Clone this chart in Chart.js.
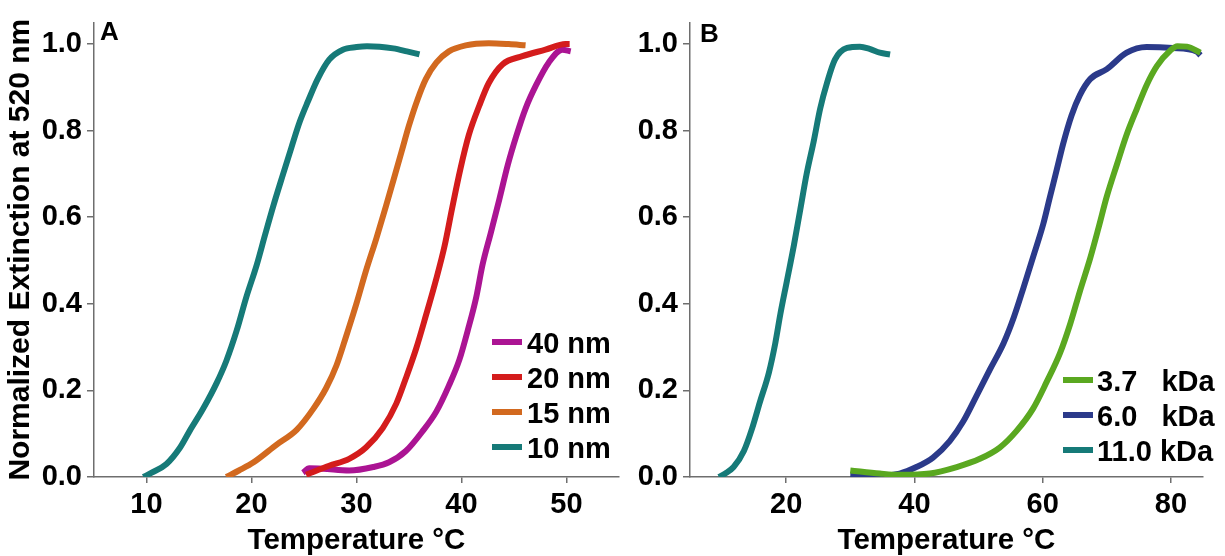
<!DOCTYPE html>
<html>
<head>
<meta charset="utf-8">
<script src="https://cdn.jsdelivr.net/npm/chart.js@4.4.1/dist/chart.umd.min.js"></script>
<style>
  html, body { margin: 0; padding: 0; background: #ffffff; }
  #wrap { position: relative; width: 1225px; height: 556px; overflow: hidden; }
  .panel { position: absolute; top: 0; height: 556px; }
</style>
</head>
<body>
<div id="wrap">
  <div class="panel" style="left:0;width:620px;"><canvas id="chartA"></canvas></div>
  <div class="panel" style="left:620px;width:605px;"><canvas id="chartB"></canvas></div>
</div>
<script>
// ---------- Panel A data (temperature °C, normalized extinction) ----------
const LABELS_A = ['40 nm', '20 nm', '15 nm', '10 nm'];
const COLORS_A = ['#ab1493', '#d41c1c', '#d2691f', '#167a78'];

const temp40 = [24.9, 25.5, 26.8, 29.3, 31.6, 33.1, 34.7, 36.3, 37.6, 38.8, 39.8, 40.6, 41.4, 42.0, 42.8, 43.6, 44.4, 45.2, 46.1, 47.1, 48.3, 49.6, 50.4];
const ext40  = [0.010, 0.020, 0.019, 0.015, 0.023, 0.034, 0.060, 0.106, 0.151, 0.211, 0.271, 0.339, 0.415, 0.490, 0.565, 0.641, 0.720, 0.786, 0.851, 0.905, 0.957, 0.987, 0.983];

const temp20 = [25.2, 27.4, 29.3, 30.9, 32.5, 33.8, 34.7, 35.7, 36.6, 37.6, 38.4, 39.1, 39.9, 40.7, 41.7, 42.6, 43.9, 45.8, 48.0, 49.9, 50.3];
const ext20  = [0.005, 0.026, 0.042, 0.068, 0.113, 0.170, 0.228, 0.298, 0.372, 0.458, 0.535, 0.620, 0.712, 0.790, 0.858, 0.910, 0.953, 0.972, 0.987, 1.000, 1.000];

const temp15 = [17.6, 18.8, 20.2, 22.4, 24.3, 25.9, 27.1, 28.1, 29.0, 30.0, 30.9, 31.9, 32.8, 33.5, 34.3, 35.0, 35.8, 36.6, 37.6, 38.8, 40.4, 42.6, 44.5, 46.1];
const ext15  = [0.000, 0.015, 0.034, 0.075, 0.109, 0.158, 0.205, 0.258, 0.324, 0.401, 0.476, 0.552, 0.625, 0.684, 0.752, 0.812, 0.871, 0.919, 0.957, 0.983, 0.997, 1.002, 1.000, 0.997];

const temp10 = [9.7, 10.5, 11.9, 13.2, 14.1, 15.4, 16.7, 17.6, 18.6, 19.5, 20.5, 21.3, 22.1, 23.0, 23.8, 24.6, 25.4, 26.3, 27.4, 28.7, 30.0, 31.0, 32.2, 33.5, 34.8, 36.0];
const ext10  = [0.000, 0.010, 0.030, 0.068, 0.106, 0.158, 0.218, 0.268, 0.339, 0.415, 0.490, 0.560, 0.628, 0.699, 0.761, 0.821, 0.869, 0.919, 0.964, 0.987, 0.993, 0.995, 0.994, 0.990, 0.983, 0.976];

const X_TICKS_A = [10, 20, 30, 40, 50];

// ---------- Panel B data ----------
const LABELS_B = ['3.7   kDa', '6.0   kDa', '11.0 kDa'];
const COLORS_B = ['#5aa820', '#2b3a8a', '#167a78'];

const temp37 = [30.0, 34.6, 37.7, 42.4, 46.6, 50.2, 53.3, 55.9, 58.5, 60.6, 62.7, 64.3, 65.8, 67.4, 68.7, 70.0, 71.6, 73.1, 74.7, 76.2, 77.8, 79.9, 81.0, 82.5, 84.6];
const ext37  = [0.015, 0.008, 0.005, 0.008, 0.023, 0.042, 0.068, 0.106, 0.158, 0.219, 0.286, 0.354, 0.429, 0.505, 0.575, 0.648, 0.723, 0.791, 0.851, 0.905, 0.949, 0.985, 0.995, 0.994, 0.980];

const temp60 = [30.0, 34.6, 37.7, 40.3, 42.9, 45.5, 47.6, 49.7, 51.8, 53.9, 55.5, 57.0, 58.5, 60.1, 61.1, 62.2, 63.2, 64.5, 65.8, 67.4, 70.0, 73.1, 76.2, 80.3, 84.0, 84.6];
const ext60  = [0.005, 0.003, 0.008, 0.023, 0.045, 0.083, 0.128, 0.188, 0.249, 0.309, 0.369, 0.437, 0.508, 0.585, 0.645, 0.710, 0.770, 0.835, 0.882, 0.919, 0.942, 0.980, 0.993, 0.991, 0.983, 0.974];

const temp110 = [9.5, 10.5, 11.8, 13.4, 14.7, 15.9, 17.3, 18.3, 19.1, 20.1, 21.2, 22.2, 23.2, 24.3, 25.3, 26.4, 27.6, 29.5, 31.5, 33.0, 34.6, 36.2];
const ext110  = [0.000, 0.008, 0.023, 0.060, 0.113, 0.173, 0.241, 0.309, 0.377, 0.452, 0.535, 0.618, 0.701, 0.776, 0.851, 0.912, 0.964, 0.991, 0.994, 0.989, 0.980, 0.976];

const X_TICKS_B = [20, 40, 60, 80];
const Y_TICKS = [0, 0.2, 0.4, 0.6, 0.8, 1.0];

// ---------- helpers ----------
const FONT = '"Liberation Sans", Arial, Helvetica, sans-serif';
const AXIS_GRAY = '#6e6e6e';
const pts = (xs, ys) => xs.map((x, i) => ({ x: x, y: ys[i] }));

function series(label, color, xs, ys, order) {
  return {
    label: label, data: pts(xs, ys), borderColor: color, backgroundColor: color,
    borderWidth: 6, pointRadius: 0, cubicInterpolationMode: 'monotone', fill: false,
    borderJoinStyle: 'round', borderCapStyle: 'butt', order: order
  };
}

function makeDecor(cfg) {
  return {
    id: 'decor_' + cfg.letter,
    afterDraw(chart) {
      const ctx = chart.ctx;
      ctx.save();
      ctx.fillStyle = '#000';
      ctx.textBaseline = 'alphabetic';
      ctx.textAlign = 'left';
      ctx.font = 'bold 26px ' + FONT;
      ctx.fillText(cfg.letter, cfg.letterX, cfg.letterY);
      ctx.font = 'bold 29px ' + FONT;
      cfg.labels.forEach((lab, i) => {
        const y = cfg.legendY + i * cfg.legendGap;
        ctx.strokeStyle = cfg.colors[i];
        ctx.lineWidth = 6;
        ctx.lineCap = 'butt';
        ctx.beginPath();
        ctx.moveTo(cfg.swX, y);
        ctx.lineTo(cfg.swX + cfg.swW, y);
        ctx.stroke();
        ctx.fillText(lab, cfg.textX, y + 10.5);
      });
      ctx.restore();
    }
  };
}

function axisX(min, max, tickVals) {
  return {
    type: 'linear', min: min, max: max,
    afterBuildTicks: s => { s.ticks = tickVals.map(v => ({ value: v })); },
    afterFit: s => { s.height = 79; },
    ticks: { color: '#000', font: { family: FONT, size: 29, weight: 'bold' }, padding: 5, maxRotation: 0,
             callback: v => String(v) },
    grid: { drawOnChartArea: false, drawTicks: true, tickLength: 6, color: AXIS_GRAY, lineWidth: 1.5 },
    border: { display: true, color: AXIS_GRAY, width: 1.5 },
    title: { display: true, text: 'Temperature °C', color: '#000',
             font: { family: FONT, size: 29.5, weight: 'bold', lineHeight: 1 }, padding: { top: 0, bottom: 0 } }
  };
}

function axisY(width, withTitle) {
  return {
    type: 'linear', min: 0, max: 1.05,
    afterBuildTicks: s => { s.ticks = Y_TICKS.map(v => ({ value: v })); },
    afterFit: s => { s.width = width; },
    ticks: { color: '#000', font: { family: FONT, size: 29, weight: 'bold' }, padding: 5,
             callback: v => Number(v).toFixed(1) },
    grid: { drawOnChartArea: false, drawTicks: true, tickLength: 7, color: AXIS_GRAY, lineWidth: 1.5 },
    border: { display: true, color: AXIS_GRAY, width: 1.5 },
    title: { display: withTitle, text: 'Normalized Extinction at 520 nm', color: '#000',
             font: { family: FONT, size: 30, weight: 'bold', lineHeight: 1 }, padding: { top: 6, bottom: 0 } }
  };
}

const commonOpts = {
  responsive: true, maintainAspectRatio: false, animation: false, devicePixelRatio: 1,
  plugins: { legend: { display: false }, tooltip: { enabled: false } },
  events: []
};

// ---------- Chart A ----------
new Chart(document.getElementById('chartA'), {
  type: 'line',
  data: {
    datasets: [
      series(LABELS_A[0], COLORS_A[0], temp40, ext40, 1),
      series(LABELS_A[1], COLORS_A[1], temp20, ext20, 0),
      series(LABELS_A[2], COLORS_A[2], temp15, ext15, 0),
      series(LABELS_A[3], COLORS_A[3], temp10, ext10, 0)
    ]
  },
  options: Object.assign({}, commonOpts, {
    layout: { padding: { top: 12, right: 1, bottom: 0, left: 0 } },
    scales: { x: axisX(5, 55, X_TICKS_A), y: axisY(94, true) }
  }),
  plugins: [makeDecor({ letter: 'A', letterX: 100, letterY: 40, labels: LABELS_A, colors: COLORS_A,
                        swX: 492, swW: 30, textX: 527, legendY: 342, legendGap: 35 })]
});

// ---------- Chart B ----------
new Chart(document.getElementById('chartB'), {
  type: 'line',
  data: {
    datasets: [
      series(LABELS_B[0], COLORS_B[0], temp37, ext37, 0),
      series(LABELS_B[1], COLORS_B[1], temp60, ext60, 0),
      series(LABELS_B[2], COLORS_B[2], temp110, ext110, 0)
    ]
  },
  options: Object.assign({}, commonOpts, {
    layout: { padding: { top: 12, right: 22, bottom: 0, left: 0 } },
    scales: { x: axisX(5, 85, X_TICKS_B), y: axisY(70, false) }
  }),
  plugins: [makeDecor({ letter: 'B', letterX: 80, letterY: 42, labels: LABELS_B, colors: COLORS_B,
                        swX: 443, swW: 30, textX: 477, legendY: 380, legendGap: 35 })]
});
</script>
</body>
</html>
